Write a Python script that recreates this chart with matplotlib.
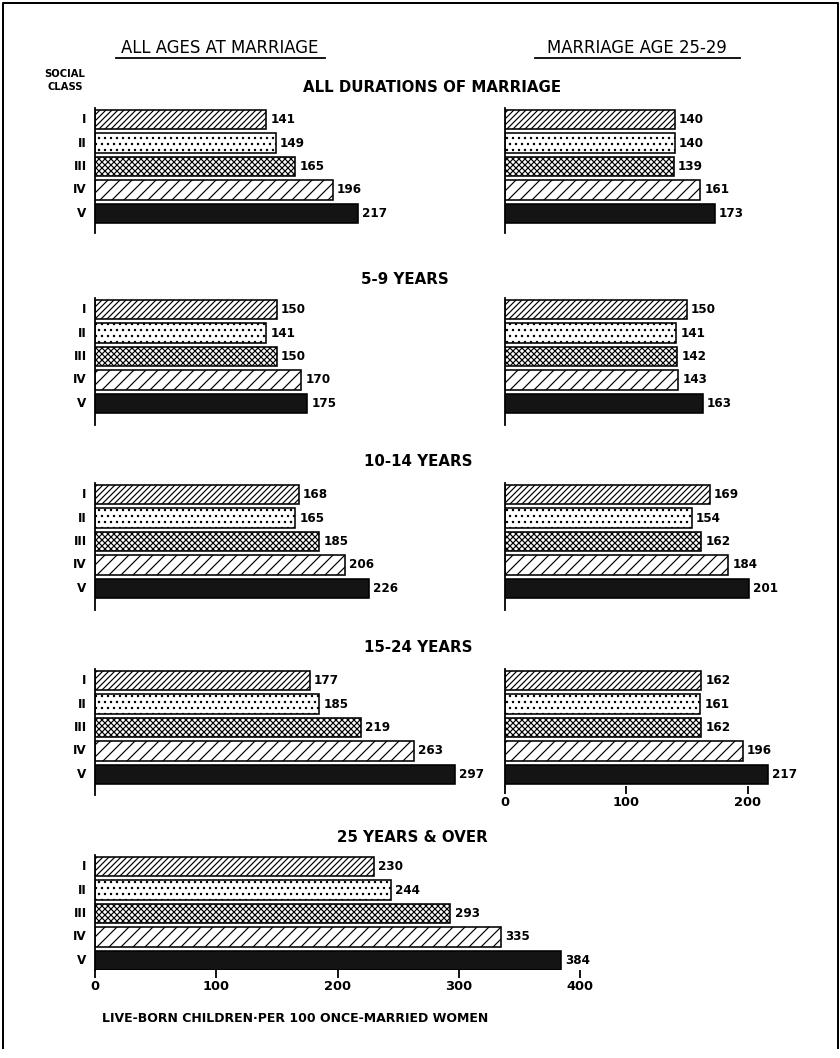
import matplotlib
matplotlib.use("Agg")
import matplotlib.pyplot as plt
from matplotlib.lines import Line2D

# ---------------- data ----------------
classes = ["I", "II", "III", "IV", "V"]
col_headers = ["ALL AGES AT MARRIAGE", "MARRIAGE AGE 25-29"]
panel_titles = ["ALL DURATIONS OF MARRIAGE", "5-9 YEARS", "10-14 YEARS",
                "15-24 YEARS", "25 YEARS & OVER"]

left_all = [141, 149, 165, 196, 217]
left_5_9 = [150, 141, 150, 170, 175]
left_10_14 = [168, 165, 185, 206, 226]
left_15_24 = [177, 185, 219, 263, 297]
left_25_over = [230, 244, 293, 335, 384]

right_all = [140, 140, 139, 161, 173]
right_5_9 = [150, 141, 142, 143, 163]
right_10_14 = [169, 154, 162, 184, 201]
right_15_24 = [162, 161, 162, 196, 217]

left_ticks = [0, 100, 200, 300, 400]
right_ticks = [0, 100, 200]
x_label = "LIVE-BORN CHILDREN\u00b7PER 100 ONCE-MARRIED WOMEN"

# ---------------- style ----------------
W, H, DPI = 840, 1058, 72
plt.rcParams["hatch.linewidth"] = 1.2
plt.rcParams["font.family"] = ["DejaVu Sans"]
plt.rcParams["font.weight"] = "bold"

hatches = ["////", "..", "xxxx", "//", None]
faces = ["white", "white", "white", "white", "#141414"]

fig = plt.figure(figsize=(W / DPI, H / DPI), dpi=DPI)
fig.patch.set_facecolor("white")

PITCH = 23.4
BAR_H = 0.83
PX_PER_UNIT = 1.2125


def add_panel(values, x0, x_max_val, top_px, vbot_px, axis_bot_px, ticks=None):
    top = top_px - 2
    bottom = axis_bot_px if ticks is None else vbot_px + 1
    width_px = x_max_val * PX_PER_UNIT
    ax = fig.add_axes([x0 / W, 1 - bottom / H, width_px / W, (bottom - top) / H])
    ax.set_xlim(0, x_max_val)
    ax.set_ylim(-0.5 + (bottom - top) / PITCH, -0.5)
    ax.patch.set_alpha(0)
    for i, v in enumerate(values):
        ax.barh(i, v, height=BAR_H, color=faces[i], edgecolor="black",
                linewidth=1.6, hatch=hatches[i], zorder=2)
        ax.text(v + 3.5, i, str(v), va="center", ha="left",
                fontsize=12, fontweight="bold", color="black", clip_on=False)
    for s in ("top", "right", "bottom"):
        ax.spines[s].set_visible(False)
    ax.spines["left"].set_linewidth(1.8)
    ax.set_yticks([])
    if ticks is None:
        ax.set_xticks([])
    else:
        ax.set_xticks(ticks)
        ax.set_xticklabels([str(t) for t in ticks], fontsize=13, fontweight="bold")
        ax.tick_params(axis="x", direction="out", length=8, width=1.8, pad=2)
    return ax


LX0 = 95
RX0 = 505

# vertical layout (pixels): bar-top, last-bar bottom, axis bottom
rows = [(110, 224, 233), (300, 413, 425), (485, 598, 610), (671, 785, 795), (857, 969, 977)]
left_data = [left_all, left_5_9, left_10_14, left_15_24, left_25_over]
right_data = [right_all, right_5_9, right_10_14, right_15_24]

for k, (t, vb, ab) in enumerate(rows):
    lt = left_ticks if k == 4 else None
    axl = add_panel(left_data[k], LX0, 400, t, vb, ab, ticks=lt)
    for i, c in enumerate(classes):
        axl.text(-7, i, c, ha="right", va="center", fontsize=12,
                 fontweight="bold", clip_on=False)
    if k < 4:
        rt = right_ticks if k == 3 else None
        add_panel(right_data[k], RX0, 250, t, vb, ab, ticks=rt)

# panel titles
title_pos = [(432, 88), (405, 280), (418, 462), (418, 648), (412, 837)]
for (x, y), s in zip(title_pos, panel_titles):
    fig.text(x / W, 1 - y / H, s, ha="center", va="center", fontsize=15, fontweight="bold")

# column headers with underline
for (x, y, x1, x2), s in zip([(220, 48, 116, 325), (637, 48, 535, 740)], col_headers):
    fig.text(x / W, 1 - y / H, s, ha="center", va="center", fontsize=16.5, fontweight="normal")
    fig.add_artist(Line2D([x1 / W, x2 / W], [1 - 58 / H, 1 - 58 / H], color="black", lw=1.8))

fig.text(65 / W, 1 - 74 / H, "SOCIAL", ha="center", va="center", fontsize=10, fontweight="bold")
fig.text(65 / W, 1 - 87 / H, "CLASS", ha="center", va="center", fontsize=10, fontweight="bold")

fig.text(295 / W, 1 - 1018 / H, x_label, ha="center", va="center", fontsize=12.5, fontweight="bold")

# frame
fig.add_artist(Line2D([3 / W, 3 / W, 838 / W, 838 / W],
                      [1 - 1048 / H, 1 - 3 / H, 1 - 3 / H, 1 - 1048 / H],
                      color="black", lw=2))

fig.savefig("out.png", dpi=DPI, facecolor="white")
